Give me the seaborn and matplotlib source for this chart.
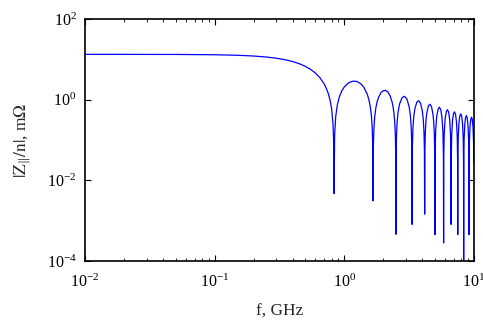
# plot.py
# Longitudinal impedance |Z||/n| vs frequency, log-log

import numpy as np
import pandas as pd
import seaborn as sns
import matplotlib
matplotlib.use("Agg")
import matplotlib.pyplot as plt
from matplotlib.ticker import LogLocator, NullFormatter, NullLocator

# Sampled points read off the reference curve (f in GHz, |Z/n| in mOhm)
# main lobe
f_main = [0.01, 0.02, 0.05, 0.1, 0.15, 0.2, 0.25, 0.3, 0.35, 0.4, 0.45, 0.5, 0.55,
          0.6, 0.65, 0.7, 0.72, 0.75, 0.76, 0.78, 0.8, 0.82, 0.83]
z_main = [13.3, 13.29, 13.22, 12.99, 12.61, 12.08, 11.42, 10.65, 9.777, 8.82, 7.797, 6.73, 5.65,
          4.56, 3.488, 2.46, 2.059, 1.48, 1.295, 0.933, 0.581, 0.2436, 0.0802]

# notch positions and the depth they reach in the picture
f_notch = [0.835, 1.670, 2.505, 3.340, 4.175, 5.010, 5.845, 6.680, 7.515, 8.350, 9.185]
z_notch = [0.0047, 0.0031, 0.00046, 0.00081, 0.00145, 0.00045, 0.00028, 0.00081, 0.00045, 0.00005, 0.00045]

# side lobes between notches (one row per lobe)
f_lobes = [
    0.8434, 0.8601, 0.8851, 0.9185, 0.9603, 1.002, 1.0855, 1.169, 1.2525, 1.336, 1.4195, 1.503, 1.5448, 1.5865, 1.6199, 1.645, 1.6617,
    1.6784, 1.6951, 1.7201, 1.7535, 1.7953, 1.837, 1.9205, 2.004, 2.0875, 2.171, 2.2545, 2.338, 2.3798, 2.4215, 2.4549, 2.48, 2.4967,
    2.5217, 2.5551, 2.6052, 2.672, 2.7973, 2.9225, 3.0478, 3.173, 3.2398, 3.2899, 3.3233,
    3.3567, 3.3901, 3.4402, 3.507, 3.6323, 3.7575, 3.8828, 4.008, 4.0748, 4.1249, 4.1583,
    4.1917, 4.2251, 4.2752, 4.342, 4.4673, 4.5925, 4.7178, 4.843, 4.9098, 4.9599, 4.9933,
    5.0267, 5.0768, 5.177, 5.3148, 5.4275, 5.5528, 5.678, 5.7782, 5.8283,
    5.8617, 5.9118, 6.012, 6.1373, 6.2625, 6.3878, 6.513, 6.6132, 6.6633,
    6.6967, 6.7468, 6.847, 6.9723, 7.0975, 7.2228, 7.348, 7.4482, 7.4983,
    7.5317, 7.5818, 7.682, 7.8073, 7.9325, 8.0578, 8.183, 8.2832, 8.3333,
    8.3667, 8.4168, 8.517, 8.6423, 8.7675, 8.8928, 9.018, 9.1182, 9.1683,
    9.2017, 9.2518, 9.352, 9.4773, 9.6025, 9.7278, 9.853, 9.95, 10.0,
]
z_lobes = [
    0.1317, 0.3868, 0.7484, 1.1893, 1.6713, 2.0737, 2.6346, 2.8759, 2.8223, 2.5164, 2.0147, 1.3825, 1.0389, 0.6886, 0.4089, 0.2022, 0.0668,
    0.0662, 0.1963, 0.3851, 0.6230, 0.8939, 1.1311, 1.4891, 1.6776, 1.6934, 1.5486, 1.2685, 0.8887, 0.6744, 0.4511, 0.2698, 0.1341, 0.0445,
    0.0880, 0.2592, 0.4995, 0.7776, 1.1260, 1.2096, 1.0334, 0.6548, 0.4017, 0.2013, 0.0668,
    0.0661, 0.1954, 0.3783, 0.5925, 0.8671, 0.9408, 0.8112, 0.5184, 0.3194, 0.1606, 0.0534,
    0.0530, 0.1568, 0.3044, 0.4785, 0.7051, 0.7697, 0.6676, 0.4290, 0.2650, 0.1336, 0.0445,
    0.0442, 0.1732, 0.4014, 0.5940, 0.6513, 0.5672, 0.3660, 0.1522, 0.0381,
    0.0379, 0.1487, 0.3456, 0.5132, 0.5645, 0.4931, 0.3190, 0.1329, 0.0333,
    0.0332, 0.1303, 0.3035, 0.4517, 0.4981, 0.4361, 0.2828, 0.1180, 0.0296,
    0.0295, 0.1160, 0.2705, 0.4034, 0.4456, 0.3909, 0.2539, 0.1061, 0.0266,
    0.0265, 0.1045, 0.2440, 0.3645, 0.4032, 0.3542, 0.2304, 0.0964, 0.0242,
    0.0241, 0.0950, 0.2222, 0.3323, 0.3681, 0.3238, 0.2109, 0.0927, 0.0266,
]

# put everything into one table sorted by frequency
df = pd.DataFrame({
    "f": f_main + f_notch + f_lobes,
    "z": z_main + z_notch + z_lobes,
}).sort_values("f")

sns.set_theme(style="ticks")
plt.rcParams["font.family"] = ["Liberation Serif", "DejaVu Serif"]
plt.rcParams["mathtext.fontset"] = "stix"

fig = plt.figure(figsize=(4.83, 3.26), dpi=100)
ax = fig.add_axes([0.176, 0.1994, 0.805, 0.7423])

sns.lineplot(data=df, x="f", y="z", ax=ax, color="#0000ff",
             linewidth=0.9, estimator=None, sort=False)

ax.set_xscale("log")
ax.set_yscale("log")
ax.set_xlim(1e-2, 1e1)
ax.set_ylim(1e-4, 1e2)

# ticks like the reference: inward, on all four sides
ax.xaxis.set_major_locator(LogLocator(base=10, numticks=10))
ax.xaxis.set_minor_locator(LogLocator(base=10, subs=np.arange(2, 10), numticks=20))
ax.xaxis.set_minor_formatter(NullFormatter())
ax.set_yticks([1e-4, 1e-2, 1e0, 1e2])
ax.yaxis.set_minor_locator(NullLocator())
ax.tick_params(which="both", direction="in", top=True, right=True,
               labelsize=11.5, colors="black")
ax.tick_params(which="major", length=4, width=0.8)
ax.tick_params(which="minor", length=2, width=0.6)
ax.tick_params(axis="x", pad=9)
ax.tick_params(axis="y", pad=6)

for s in ax.spines.values():
    s.set_linewidth(1.2)
    s.set_color("black")

ax.set_xlabel("f, GHz", fontsize=12.5, labelpad=9)
ax.set_ylabel(r"$|\mathrm{Z}_{\|}/\mathrm{n}|$, m$\Omega$", fontsize=12.5, labelpad=10)

fig.savefig("out.png", dpi=100)
